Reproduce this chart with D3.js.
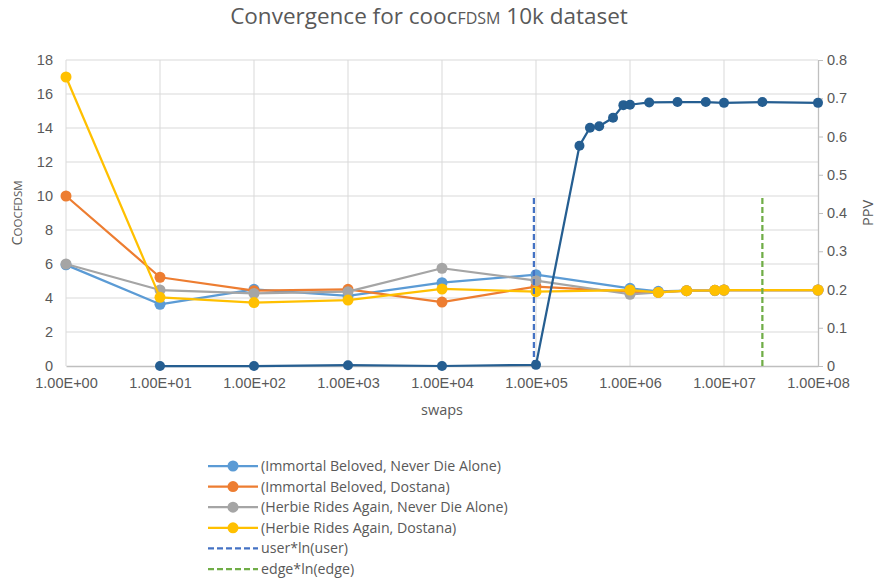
<!DOCTYPE html>
<html>
<head>
<meta charset="utf-8">
<script src="https://cdn.jsdelivr.net/npm/d3@7"></script>
<style>
  html, body { margin: 0; padding: 0; background: #fff; }
  svg { display: block; font-family: "Open Sans", "Liberation Sans", sans-serif; }
</style>
</head>
<body>
<svg id="chart" width="876" height="580"></svg>
<script>
// swap counts shared by the four pair series
const swaps = [1, 10, 100, 1e3, 1e4, 1e5, 1e6, 2e6, 4e6, 8e6, 1e7, 1e8];

// coocFDSM value of each movie pair
const immortalNeverDie = [5.95, 3.63, 4.51, 4.12, 4.9, 5.37, 4.57, 4.39, 4.43, 4.45, 4.47, 4.47];
const immortalDostana  = [10.0, 5.22, 4.43, 4.51, 3.76, 4.67, 4.37, 4.33, 4.43, 4.45, 4.47, 4.47];
const herbieNeverDie   = [6.0, 4.47, 4.27, 4.37, 5.75, 5.02, 4.22, 4.33, 4.43, 4.43, 4.47, 4.47];
const herbieDostana    = [17.0, 4.04, 3.73, 3.88, 4.53, 4.37, 4.47, 4.33, 4.43, 4.45, 4.47, 4.47];

// PPV against swaps (secondary axis)
const ppvSwaps  = [10, 100, 1e3, 1e4, 1e5, 2.9e5, 3.75e5, 4.7e5, 6.6e5, 8.5e5, 1e6, 1.6e6, 3.2e6, 6.4e6, 1e7, 2.56e7, 1e8];
const ppvValues = [0.0, 0.0, 0.002, 0.0, 0.003, 0.576, 0.623, 0.627, 0.649, 0.682, 0.683, 0.689, 0.69, 0.69, 0.688, 0.69, 0.688];

// reference swap counts, drawn as dashed markers up to coocFDSM 10
const userLnUser = 9.5e4;
const edgeLnEdge = 2.56e7;
const markerTop = 10;

const seriesNames = [
  "(Immortal Beloved, Never Die Alone)",
  "(Immortal Beloved, Dostana)",
  "(Herbie Rides Again, Never Die Alone)",
  "(Herbie Rides Again, Dostana)",
  "user*ln(user)",
  "edge*ln(edge)"
];
const xTicks = [1, 10, 100, 1e3, 1e4, 1e5, 1e6, 1e7, 1e8];
const leftTicks = [0, 2, 4, 6, 8, 10, 12, 14, 16, 18];
const rightTicks = [0, 0.1, 0.2, 0.3, 0.4, 0.5, 0.6, 0.7, 0.8];

const colors = ["#5b9bd5", "#ed7d31", "#a5a5a5", "#ffc000", "#4472c4", "#70ad47"];
const ppvColor = "#255e91";
const textColor = "#595959";
const gridColor = "#d9d9d9";
const axisColor = "#bfbfbf";

const svg = d3.select("#chart");
const plotL = 66, plotR = 818, plotT = 60, plotB = 366;

const x = d3.scaleLog().domain([1, 1e8]).range([plotL, plotR]);
const yL = d3.scaleLinear().domain([0, 18]).range([plotB, plotT]);
const yR = d3.scaleLinear().domain([0, 0.8]).range([plotB, plotT]);

const fmtExp = d => {
  const e = Math.round(Math.log10(d));
  return "1.00E+" + String(e).padStart(2, "0");
};

// grid
const grid = svg.append("g");
grid.selectAll("line.h").data(leftTicks.slice(1)).join("line")
  .attr("x1", plotL).attr("x2", plotR)
  .attr("y1", d => yL(d)).attr("y2", d => yL(d))
  .attr("stroke", gridColor).attr("stroke-width", 1);
grid.selectAll("line.v").data(xTicks.slice(0, -1)).join("line")
  .attr("x1", d => x(d)).attr("x2", d => x(d))
  .attr("y1", plotT).attr("y2", plotB)
  .attr("stroke", gridColor).attr("stroke-width", 1);

// bottom axis
const xAxis = svg.append("g").attr("transform", `translate(0,${plotB})`)
  .call(d3.axisBottom(x).tickValues(xTicks).tickFormat(fmtExp).tickSize(0).tickPadding(12));
xAxis.select(".domain").attr("stroke", axisColor).attr("stroke-width", 1.3);
xAxis.selectAll("text").attr("fill", textColor).style("font-size", "14.5px");

// left axis
const yAxisL = svg.append("g").attr("transform", `translate(${plotL},0)`)
  .call(d3.axisLeft(yL).tickValues(leftTicks).tickSize(0).tickPadding(13));
yAxisL.select(".domain").remove();
yAxisL.selectAll("text").attr("fill", textColor).style("font-size", "14.5px");

// right axis
const yAxisR = svg.append("g").attr("transform", `translate(${plotR},0)`)
  .call(d3.axisRight(yR).tickValues(rightTicks).tickFormat(d => d === 0 ? "0" : d3.format(".1f")(d)).tickSize(5).tickSizeOuter(0).tickPadding(4));
yAxisR.select(".domain").attr("stroke", axisColor).attr("stroke-width", 1.3);
yAxisR.selectAll("line").attr("stroke", axisColor);
yAxisR.selectAll("text").attr("fill", textColor).style("font-size", "14.5px");

// titles
const title = svg.append("text").attr("x", 429).attr("y", 24).attr("text-anchor", "middle")
  .attr("fill", textColor).style("font-size", "22.5px");
title.append("tspan").text("Convergence for cooc");
title.append("tspan").style("font-size", "16px").text("FDSM");
title.append("tspan").text(" 10k dataset");

svg.append("text").attr("x", 442).attr("y", 415).attr("text-anchor", "middle")
  .attr("fill", textColor).style("font-size", "14.5px").text("swaps");

const yTitle = svg.append("text").attr("transform", `translate(22,${(plotT + plotB) / 2}) rotate(-90)`)
  .attr("text-anchor", "middle").attr("fill", textColor).style("font-size", "14.5px");
yTitle.append("tspan").text("C");
yTitle.append("tspan").style("font-size", "11.5px").text("OOCFDSM");

svg.append("text").attr("transform", `translate(873,${(plotT + plotB) / 2}) rotate(-90)`)
  .attr("text-anchor", "middle").attr("fill", textColor).style("font-size", "14.5px").text("PPV");

// pair series
const pairs = [immortalNeverDie, immortalDostana, herbieNeverDie, herbieDostana];
const lineL = d3.line().x(d => x(d[0])).y(d => yL(d[1]));
pairs.forEach((vals, i) => {
  const pts = swaps.map((s, j) => [s, vals[j]]);
  const g = svg.append("g");
  g.append("path").attr("d", lineL(pts)).attr("fill", "none")
    .attr("stroke", colors[i]).attr("stroke-width", 2.25).attr("stroke-linejoin", "round");
  g.selectAll("circle").data(pts).join("circle")
    .attr("cx", d => x(d[0])).attr("cy", d => yL(d[1])).attr("r", 5.5)
    .attr("fill", colors[i]);
});

// dashed reference markers
[[userLnUser, colors[4]], [edgeLnEdge, colors[5]]].forEach(([s, c]) => {
  svg.append("line")
    .attr("x1", x(s)).attr("x2", x(s))
    .attr("y1", yL(0)).attr("y2", yL(markerTop))
    .attr("stroke", c).attr("stroke-width", 2.25).attr("stroke-dasharray", "6,3");
});

// PPV series
const ppvPts = ppvSwaps.map((s, j) => [s, ppvValues[j]]);
const lineR = d3.line().x(d => x(d[0])).y(d => yR(d[1]));
const gp = svg.append("g");
gp.append("path").attr("d", lineR(ppvPts)).attr("fill", "none")
  .attr("stroke", ppvColor).attr("stroke-width", 2.25).attr("stroke-linejoin", "round");
gp.selectAll("circle").data(ppvPts).join("circle")
  .attr("cx", d => x(d[0])).attr("cy", d => yR(d[1])).attr("r", 5)
  .attr("fill", ppvColor);

// legend
const legend = svg.append("g").attr("transform", "translate(208,466)");
seriesNames.forEach((name, i) => {
  const row = legend.append("g").attr("transform", `translate(0,${i * 20.6})`);
  const dashed = i >= 4;
  row.append("line").attr("x1", 0).attr("x2", 50).attr("y1", 0).attr("y2", 0)
    .attr("stroke", colors[i]).attr("stroke-width", 2.25)
    .attr("stroke-dasharray", dashed ? "6,3" : null);
  if (!dashed) {
    row.append("circle").attr("cx", 25).attr("cy", 0).attr("r", 5.5).attr("fill", colors[i]);
  }
  row.append("text").attr("x", 53).attr("y", 0).attr("dy", "0.35em")
    .attr("fill", textColor).style("font-size", "14.2px").text(name);
});
</script>
</body>
</html>
